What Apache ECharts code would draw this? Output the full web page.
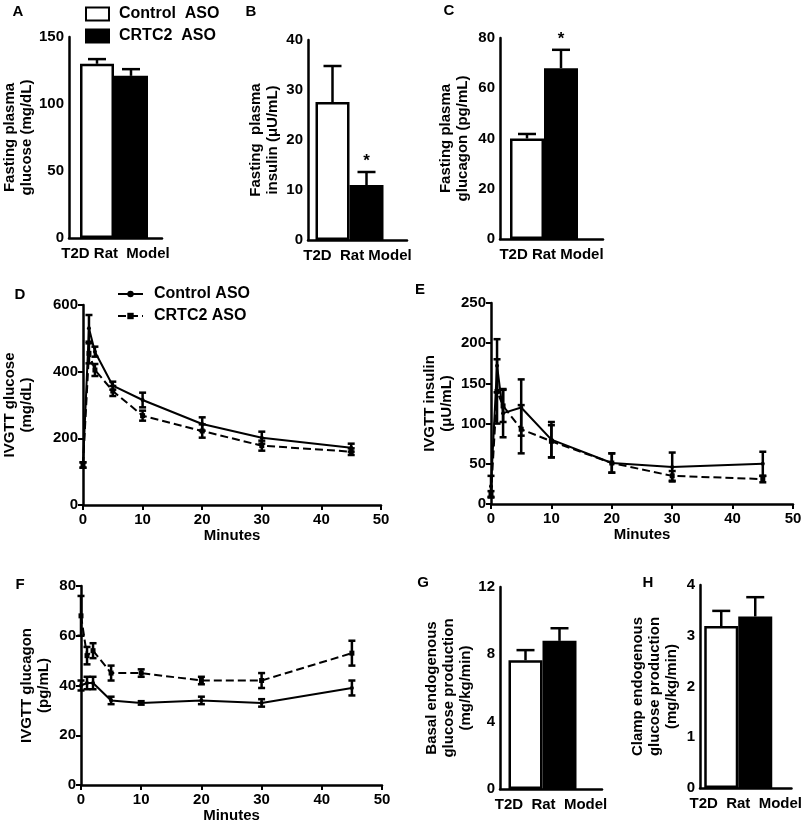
<!DOCTYPE html>
<html>
<head>
<meta charset="utf-8">
<script src="https://cdn.jsdelivr.net/npm/echarts@6/dist/echarts.min.js"></script>
<style>
  html, body { margin: 0; padding: 0; background: #fff; }
  #main { width: 805px; height: 830px; }
</style>
</head>
<body>
<div id="main"></div>
<script>
// ---- bar panels A, B, C, G, H ----
const barPanels = ['A', 'B', 'C', 'G', 'H'];
const barCategories = ['T2D Rat  Model', 'T2D  Rat Model', 'T2D Rat Model', 'T2D  Rat  Model', 'T2D  Rat  Model'];
const ctlBar = [130, 27.6, 40, 7.65, 3.19];
const ctlBarErr = [3.5, 7.2, 1.8, 0.6, 0.3];
const crtBar = [121, 11, 68, 8.8, 3.38];
const crtBarErr = [5, 2.6, 7.3, 0.75, 0.38];
const crtSig = [false, true, true, false, false];
const barYMax = [150, 40, 80, 12, 4];
const barYStep = [50, 10, 20, 4, 1];
const barYNames = [
    'Fasting plasma\nglucose (mg/dL)',
    'Fasting  plasma\ninsulin (\u03bcU/mL)',
    'Fasting plasma\nglucagon (pg/mL)',
    'Basal endogenous\nglucose production\n(mg/kg/min)',
    'Clamp endogenous\nglucose production\n(mg/kg/min)'
];

// ---- IVGTT panels D, E, F ----
const times = [0, 1, 2, 5, 10, 20, 30, 45];
const glucCtl = [120, 530, 460, 358, 315, 243, 202, 172];
const glucCtlErr = [8, 40, 15, 12, 22, 20, 18, 12];
const glucCrt = [120, 455, 405, 342, 268, 222, 178, 160];
const glucCrtErr = [8, 30, 18, 15, 15, 20, 15, 10];
const insCtl = [22, 172, 113, 120, 80, 51, 46, 50];
const insCtlErr = [13, 33, 30, 35, 22, 12, 18, 15];
const insCrt = [12, 140, 122, 93, 78, 51, 35, 31];
const insCrtErr = [4, 40, 20, 30, 20, 12, 6, 4];
const gcgCtl = [40, 41, 41, 34, 33, 34, 33, 39];
const gcgCtlErr = [2, 2.5, 2.5, 1.5, 0.7, 1.5, 1.5, 3];
const gcgCrt = [68, 52, 54, 45, 45, 42, 42, 53];
const gcgCrtErr = [8, 3.5, 3, 3, 1.5, 1.5, 3, 5];
const lineYMax = [600, 250, 80];
const lineYStep = [200, 50, 20];
const lineYNames = ['IVGTT glucose\n(mg/dL)', 'IVGTT insulin\n(\u03bcU/mL)', 'IVGTT glucagon\n(pg/mL)'];

const FONT = '"Liberation Sans", Arial, sans-serif';
const BAR_W = 34;

// layout (pixels)
const barGrids = [
    { left: 69, top: 37, width: 93, height: 201, pad: 3, gap: 33, fs: 15 },
    { left: 308, top: 40, width: 99, height: 200, pad: 16, gap: 27, fs: 15 },
    { left: 500, top: 38, width: 103, height: 201, pad: 15, gap: 29, fs: 15 },
    { left: 500, top: 587, width: 102, height: 202, pad: 17, gap: 23, fs: 15 },
    { left: 700, top: 585, width: 100, height: 203, pad: 15, gap: 20, fs: 15 }
];
const lineGrids = [
    { left: 81, top: 305, width: 300, height: 200, gap: 48 },
    { left: 491, top: 303, width: 302, height: 201, gap: 36 },
    { left: 81, top: 586, width: 301, height: 199, gap: 29 }
];
const letters = [
    ['A', 18, 12], ['B', 251, 12], ['C', 449, 11], ['D', 20, 295],
    ['E', 420, 290], ['F', 20, 585], ['G', 423, 583], ['H', 648, 583]
];

const axisLine = { lineStyle: { color: '#000', width: 2.5 } };
const axisTick = { length: 5, lineStyle: { color: '#000', width: 2 } };
const labelStyle = { color: '#000', fontWeight: 'bold', fontSize: 15, fontFamily: FONT };

var grids = [], xAxes = [], yAxes = [], series = [];

function yAxisOf(i, max, step, name, gap, fs) {
    return {
        type: 'value', gridIndex: i, min: 0, max: max, interval: step,
        name: name, nameLocation: 'middle', nameGap: gap,
        nameTextStyle: { color: '#000', fontWeight: 'bold', fontSize: fs, fontFamily: FONT, lineHeight: fs + 2 },
        axisLine: Object.assign({ show: true }, axisLine), axisTick: axisTick,
        axisLabel: Object.assign({ margin: 5 }, labelStyle),
        splitLine: { show: false }
    };
}

function barErr(i, vals, errs, which, sig) {
    const g = barGrids[i];
    const off = -(2 * BAR_W + g.pad) / 2 + BAR_W / 2 + which * BAR_W;
    return {
        type: 'custom', xAxisIndex: i, yAxisIndex: i, z: 5, silent: true,
        data: [[0, vals[i], errs[i], sig ? 1 : 0]],
        renderItem: function (params, api) {
            const base = api.coord([0, api.value(1)]);
            const top = api.coord([0, api.value(1) + api.value(2)]);
            const x = base[0] + off;
            const kids = [
                { type: 'line', shape: { x1: x, y1: base[1], x2: x, y2: top[1] }, style: { stroke: '#000', lineWidth: 2.5 } },
                { type: 'line', shape: { x1: x - 9, y1: top[1], x2: x + 9, y2: top[1] }, style: { stroke: '#000', lineWidth: 2.5 } }
            ];
            if (api.value(3)) {
                kids.push({ type: 'text', style: { text: '*', x: x, y: top[1] - 2, align: 'center', verticalAlign: 'bottom', font: 'bold 17px ' + FONT, fill: '#000' } });
            }
            return { type: 'group', children: kids };
        }
    };
}

barGrids.forEach(function (g, i) {
    grids.push({ left: g.left, top: g.top, width: g.width, height: g.height });
    xAxes.push({
        type: 'category', gridIndex: i, data: [barCategories[i]],
        axisLine: axisLine, axisTick: { show: false },
        axisLabel: Object.assign({ margin: 8 }, labelStyle)
    });
    yAxes.push(yAxisOf(i, barYMax[i], barYStep[i], barYNames[i], g.gap, g.fs));
    series.push({
        type: 'bar', name: 'Control  ASO', xAxisIndex: i, yAxisIndex: i, silent: true,
        data: [ctlBar[i]], barWidth: BAR_W, barGap: '0%',
        itemStyle: { color: '#fff', borderColor: '#000', borderWidth: 2.5 }
    });
    series.push({
        type: 'bar', name: 'CRTC2  ASO', xAxisIndex: i, yAxisIndex: i, silent: true,
        data: [crtBar[i]], barWidth: BAR_W, barGap: '0%',
        itemStyle: { color: '#000', borderColor: '#000', borderWidth: 2.5 }
    });
    // empty slot that pushes the pair left, as in the figure
    series.push({ type: 'bar', xAxisIndex: i, yAxisIndex: i, data: [], barWidth: g.pad, barGap: '0%' });
    series.push(barErr(i, ctlBar, ctlBarErr, 0, false));
    series.push(barErr(i, crtBar, crtBarErr, 1, crtSig[i]));
});

function lineErr(gi, vals, errs) {
    return {
        type: 'custom', xAxisIndex: gi, yAxisIndex: gi, z: 5, silent: true,
        data: times.map(function (t, k) { return [t, vals[k], errs[k]]; }),
        renderItem: function (params, api) {
            const t = api.value(0), v = api.value(1), e = api.value(2);
            const lo = api.coord([t, v - e]);
            const hi = api.coord([t, v + e]);
            const st = { stroke: '#000', lineWidth: 2.5 };
            return {
                type: 'group', children: [
                    { type: 'line', shape: { x1: lo[0], y1: lo[1], x2: hi[0], y2: hi[1] }, style: st },
                    { type: 'line', shape: { x1: lo[0] - 3.5, y1: lo[1], x2: lo[0] + 3.5, y2: lo[1] }, style: st },
                    { type: 'line', shape: { x1: hi[0] - 3.5, y1: hi[1], x2: hi[0] + 3.5, y2: hi[1] }, style: st }
                ]
            };
        }
    };
}

const lineSets = [
    [glucCtl, glucCtlErr, glucCrt, glucCrtErr],
    [insCtl, insCtlErr, insCrt, insCrtErr],
    [gcgCtl, gcgCtlErr, gcgCrt, gcgCrtErr]
];

lineGrids.forEach(function (g, j) {
    const i = barGrids.length + j;
    grids.push({ left: g.left, top: g.top, width: g.width, height: g.height });
    xAxes.push({
        type: 'value', gridIndex: i, min: 0, max: 50, interval: 10,
        name: 'Minutes', nameLocation: 'middle', nameGap: 23,
        nameTextStyle: { color: '#000', fontWeight: 'bold', fontSize: 15, fontFamily: FONT },
        axisLine: axisLine, axisTick: axisTick,
        axisLabel: Object.assign({ margin: 7 }, labelStyle),
        splitLine: { show: false }
    });
    yAxes.push(yAxisOf(i, lineYMax[j], lineYStep[j], lineYNames[j], g.gap, 15));
    const s = lineSets[j];
    series.push({
        type: 'line', name: 'Control ASO', xAxisIndex: i, yAxisIndex: i, silent: true,
        data: times.map(function (t, k) { return [t, s[0][k]]; }),
        symbol: 'circle', symbolSize: 4,
        itemStyle: { color: '#000' }, lineStyle: { color: '#000', width: 2 }
    });
    series.push({
        type: 'line', name: 'CRTC2 ASO', xAxisIndex: i, yAxisIndex: i, silent: true,
        data: times.map(function (t, k) { return [t, s[2][k]]; }),
        symbol: 'rect', symbolSize: 5,
        itemStyle: { color: '#000' }, lineStyle: { color: '#000', width: 2, type: [8, 4] }
    });
    series.push(lineErr(i, s[0], s[1]));
    series.push(lineErr(i, s[2], s[3]));
});

var myChart = echarts.init(document.getElementById('main'));
var option = {
    animation: false,
    backgroundColor: '#fff',
    grid: grids,
    xAxis: xAxes,
    yAxis: yAxes,
    legend: [
        {
            data: ['Control  ASO', 'CRTC2  ASO'], orient: 'vertical', left: 85, top: 6, padding: 0,
            icon: 'rect', itemWidth: 23, itemHeight: 13, itemGap: 6, selectedMode: false,
            textStyle: { color: '#000', fontWeight: 'bold', fontSize: 16, fontFamily: FONT, padding: [0, 0, 0, 5] }
        },
        {
            data: ['Control ASO', 'CRTC2 ASO'], orient: 'vertical', left: 117, top: 286, padding: 0,
            itemWidth: 25, itemHeight: 8, itemGap: 6, selectedMode: false,
            textStyle: { color: '#000', fontWeight: 'bold', fontSize: 16, fontFamily: FONT, padding: [0, 0, 0, 6] }
        }
    ],
    graphic: letters.map(function (l) {
        return {
            type: 'text', x: l[1], y: l[2],
            style: { text: l[0], align: 'center', verticalAlign: 'middle', font: 'bold 15px ' + FONT, fill: '#000' }
        };
    }),
    series: series
};
myChart.setOption(option);
</script>
</body>
</html>
